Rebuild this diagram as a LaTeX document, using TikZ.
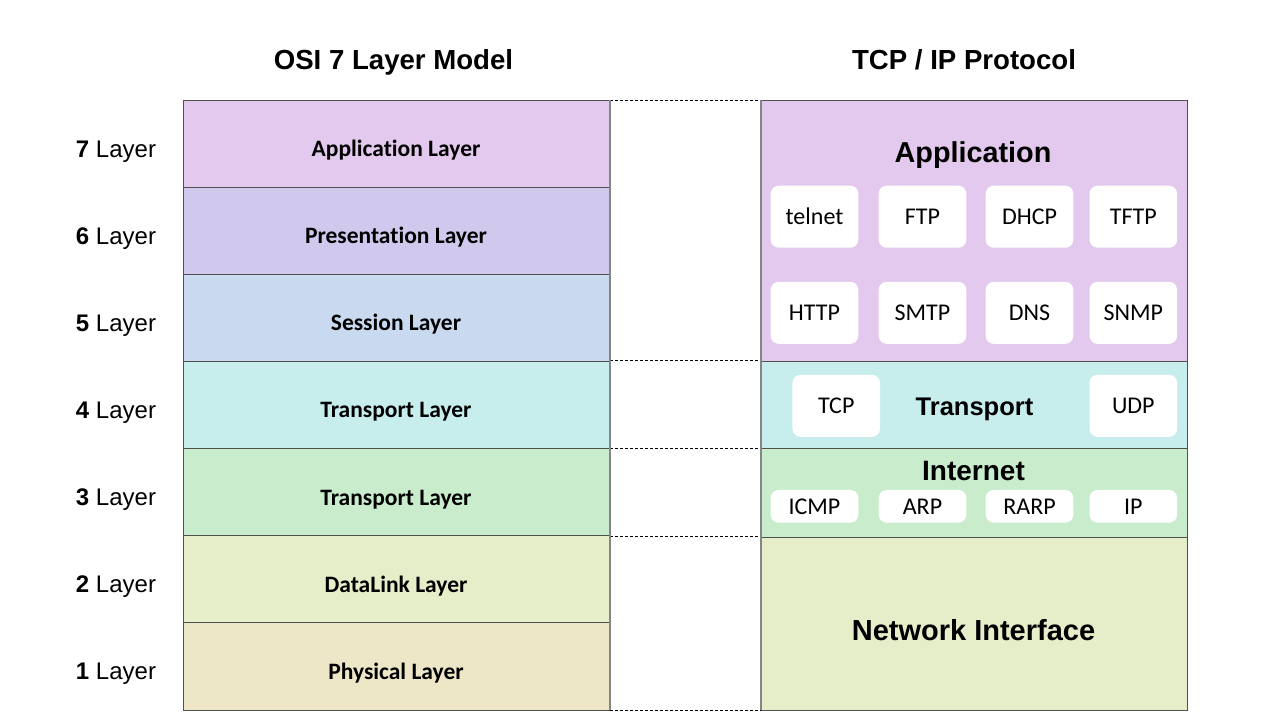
\documentclass[tikz,border=0pt]{standalone}
\usepackage{fontspec}
\setmainfont{Liberation Sans}
\newfontfamily\calfont[Ligatures=CommonOff]{Carlito}
\definecolor{capp}{HTML}{E4C9EE}
\definecolor{cpres}{HTML}{D0C9ED}
\definecolor{csess}{HTML}{C9D9EF}
\definecolor{ctrans}{HTML}{C7EDED}
\definecolor{cnet}{HTML}{C9EDCC}
\definecolor{clink}{HTML}{E5EDC9}
\definecolor{cphys}{HTML}{EDE7C8}
\definecolor{edge}{HTML}{505050}
\definecolor{midgray}{HTML}{858585}
\tikzset{
  osibox/.style={draw=edge, line width=1pt, minimum width=427pt, minimum height=87.14pt, inner sep=0pt},
  tcpbox/.style={draw=edge, line width=1pt, minimum width=426pt, inner sep=0pt},
  ositext/.style={anchor=base, inner sep=0pt, font=\calfont\bfseries\fontsize{23.5}{24}\selectfont},
  numtext/.style={anchor=base, inner sep=0pt, font=\fontsize{24}{24}\selectfont},
  title/.style={anchor=base, inner sep=0pt, font=\bfseries\fontsize{27.6}{28}\selectfont},
  head/.style={anchor=base, inner sep=0pt, font=\bfseries\fontsize{#1}{#1}\selectfont},
  proto/.style={fill=white, rounded corners=8pt, minimum width=87.6pt, minimum height=62pt, inner sep=0pt, font=\calfont\fontsize{24}{24}\selectfont},
  protosm/.style={proto, minimum height=32.7pt},
  dashline/.style={dash pattern=on 3pt off 2pt, line width=1pt, black},
  sideline/.style={midgray, line width=2pt}
}
\begin{document}
\begin{tikzpicture}[x=1pt,y=-1pt]
\useasboundingbox (0,0) rectangle (1280,720);
\fill[white] (0,0) rectangle (1280,720);

% titles
\node[title] (t1) at (393.5,69) {OSI 7 Layer Model};
\node[title] (t2) at (964,69) {TCP / IP Protocol};

% OSI layers
\node[osibox, fill=capp]   (L7) at (396.5,143.57) {};
\node[osibox, fill=cpres]  (L6) at (396.5,230.71) {};
\node[osibox, fill=csess]  (L5) at (396.5,317.86) {};
\node[osibox, fill=ctrans] (L4) at (396.5,405.00) {};
\node[osibox, fill=cnet]   (L3) at (396.5,492.14) {};
\node[osibox, fill=clink]  (L2) at (396.5,579.29) {};
\node[osibox, fill=cphys]  (L1) at (396.5,666.43) {};

\node[ositext] (o7) at (396,156.5) {Application Layer};
\node[ositext] (o6) at (396,243.6) {Presentation Layer};
\node[ositext] (o5) at (396,330.8) {Session Layer};
\node[ositext] (o4) at (396,417.9) {Transport Layer};
\node[ositext] (o3) at (396,505.1) {Transport Layer};
\node[ositext] (o2) at (396,592.2) {DataLink Layer};
\node[ositext] (o1) at (396,679.4) {Physical Layer};

\node[numtext] (n7) at (116,157.0) {\textbf{7} Layer};
\node[numtext] (n6) at (116,244.1) {\textbf{6} Layer};
\node[numtext] (n5) at (116,331.3) {\textbf{5} Layer};
\node[numtext] (n4) at (116,418.4) {\textbf{4} Layer};
\node[numtext] (n3) at (116,505.6) {\textbf{3} Layer};
\node[numtext] (n2) at (116,592.7) {\textbf{2} Layer};
\node[numtext] (n1) at (116,679.9) {\textbf{1} Layer};

% TCP/IP layers
\node[tcpbox, fill=capp,   minimum height=261pt] (RA) at (974,230.5) {};
\node[tcpbox, fill=ctrans, minimum height=87pt]  (RT) at (974,404.5) {};
\node[tcpbox, fill=cnet,   minimum height=89pt]  (RI) at (974,492.5) {};
\node[tcpbox, fill=clink,  minimum height=173pt] (RN) at (974,623.5) {};

\node[head=28.8] (hA) at (973,162) {Application};
\node[head=25.5] (hT) at (974.5,415) {Transport};
\node[head=28] (hI) at (973.5,480) {Internet};
\node[head=29] (hN) at (973.5,640) {Network Interface};

% protocol boxes
\node[proto] (telnet) at (814.5,216.7) {telnet};
\node[proto] (ftp)    at (922.5,216.7) {FTP};
\node[proto] (dhcp)   at (1029.5,216.7) {DHCP};
\node[proto] (tftp)   at (1133.3,216.7) {TFTP};
\node[proto] (http)   at (814.5,312.8) {HTTP};
\node[proto] (smtp)   at (922.5,312.8) {SMTP};
\node[proto] (dns)    at (1029.5,312.8) {DNS};
\node[proto] (snmp)   at (1133.3,312.8) {SNMP};
\node[proto] (tcp)    at (836.2,405.8) {TCP};
\node[proto] (udp)    at (1133.3,405.8) {UDP};
\node[protosm] (icmp) at (814.5,506.3) {ICMP};
\node[protosm] (arp)  at (922.5,506.3) {ARP};
\node[protosm] (rarp) at (1029.5,506.3) {RARP};
\node[protosm] (ip)   at (1133.3,506.3) {IP};

% middle gap
\coordinate (m1) at (610,100);   \coordinate (m2) at (761,100);
\coordinate (m3) at (610,360.5); \coordinate (m4) at (761,360.5);
\coordinate (m5) at (610,448.5); \coordinate (m6) at (761,448.5);
\coordinate (m7) at (610,536.5); \coordinate (m8) at (761,536.5);
\coordinate (m9) at (610,710);   \coordinate (m10) at (761,710);
\draw[dashline] (m1) -- (m2);
\draw[dashline] (m3) -- (m4);
\draw[dashline] (m5) -- (m6);
\draw[dashline] (m7) -- (m8);
\draw[dashline] (m9) -- (m10);
\draw[sideline] (m1) -- (m9);
\draw[sideline] (m2) -- (m10);
\end{tikzpicture}
\end{document}
